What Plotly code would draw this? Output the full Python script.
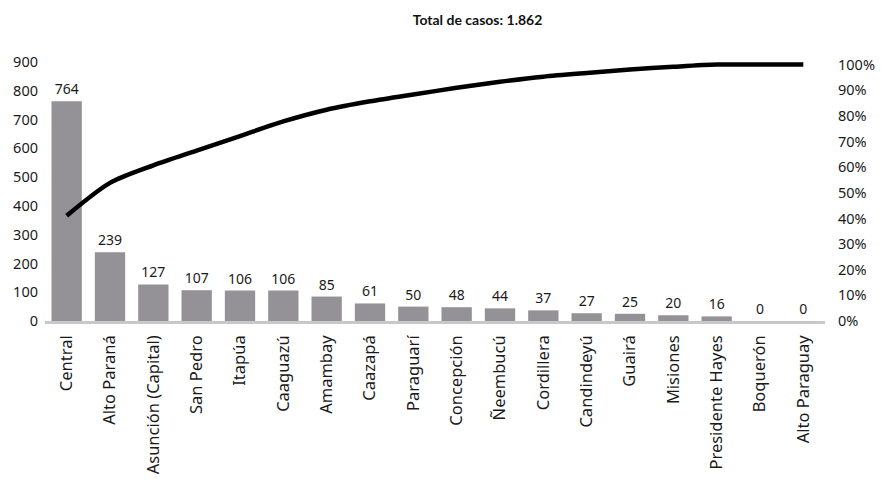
import plotly.graph_objects as go

departamentos = [
    "Central", "Alto Paraná", "Asunción (Capital)", "San Pedro", "Itapúa",
    "Caaguazú", "Amambay", "Caazapá", "Paraguarí", "Concepción", "Ñeembucú",
    "Cordillera", "Candindeyú", "Guairá", "Misiones", "Presidente Hayes",
    "Boquerón", "Alto Paraguay",
]
casos = [764, 239, 127, 107, 106, 106, 85, 61, 50, 48, 44, 37, 27, 25, 20, 16, 0, 0]

total = sum(casos)
acumulado = []
running = 0
for c in casos:
    running += c
    acumulado.append(running / total)

left_ticks = list(range(0, 901, 100))
right_ticks = [i / 10 for i in range(0, 11)]

FONT = "Noto Sans"
TXT = "#1a1a1a"

fig = go.Figure()

fig.add_trace(go.Bar(
    x=departamentos,
    y=casos,
    marker=dict(color="#949297", line=dict(width=0)),
    width=0.7,
    text=casos,
    texttemplate="%{text}",
    textposition="outside",
    textfont=dict(family=FONT, size=14, color=TXT),
    cliponaxis=False,
    yaxis="y",
    showlegend=False,
))

fig.add_trace(go.Scatter(
    x=departamentos,
    y=acumulado,
    mode="lines",
    line=dict(color="#000000", width=4.5, shape="spline", smoothing=0.8),
    yaxis="y2",
    showlegend=False,
    cliponaxis=False,
))

fig.update_layout(
    width=881,
    height=483,
    margin=dict(l=45, r=56, t=62, b=162),
    paper_bgcolor="white",
    plot_bgcolor="white",
    bargap=0.3,
    title=dict(
        text="<b>Total de casos: 1.862</b>",
        x=0.542, xanchor="center",
        y=0.958, yanchor="middle",
        font=dict(family="Lato", size=14, color="#111111"),
    ),
    xaxis=dict(
        type="category",
        range=[-0.5, len(departamentos) - 0.5],
        tickangle=-90,
        tickfont=dict(family=FONT, size=16.5, color=TXT),
        showline=True,
        linecolor="#c8c8cc",
        linewidth=2.5,
        showgrid=False,
        ticks="",
        ticklabelstandoff=5,
        automargin=False,
    ),
    yaxis=dict(
        range=[0, 900],
        tickvals=left_ticks,
        tickfont=dict(family=FONT, size=14.5, color=TXT),
        showgrid=False,
        zeroline=False,
        showline=False,
        ticks="",
        ticklabelstandoff=6,
        automargin=False,
    ),
    yaxis2=dict(
        range=[0, 1.01],
        overlaying="y",
        side="right",
        tickvals=right_ticks,
        tickformat=".0%",
        tickfont=dict(family=FONT, size=14.5, color=TXT),
        showgrid=False,
        zeroline=False,
        showline=False,
        ticks="",
        ticklabelstandoff=12,
        automargin=False,
    ),
)

fig.write_html("out.html")
